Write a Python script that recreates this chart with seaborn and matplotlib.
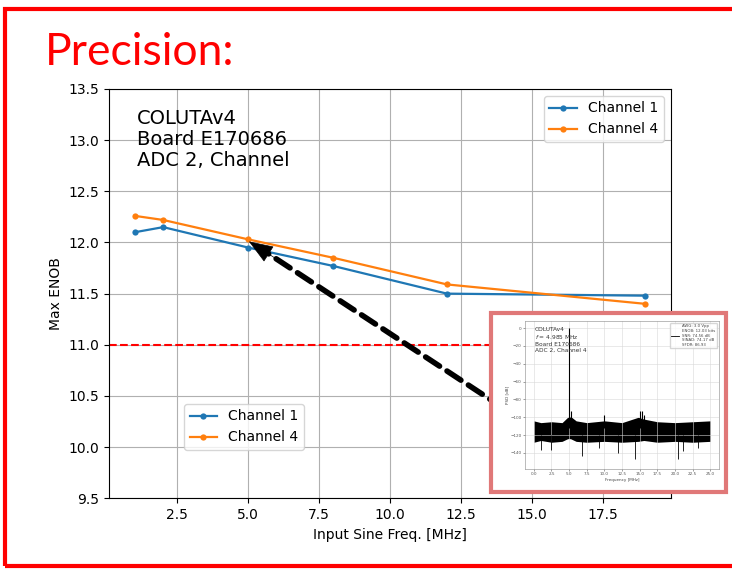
import numpy as np
import pandas as pd
import seaborn as sns
import matplotlib.pyplot as plt
from matplotlib.patches import Rectangle
from matplotlib.lines import Line2D

# main chart data
freq_mhz = [1, 2, 5, 8, 12, 19]
enob_ch1 = [12.10, 12.15, 11.95, 11.77, 11.50, 11.48]
enob_ch4 = [12.26, 12.22, 12.03, 11.85, 11.59, 11.40]
channels = ['Channel 1', 'Channel 4']
y_ticks = [9.5, 10.0, 10.5, 11.0, 11.5, 12.0, 12.5, 13.0, 13.5]

# inset PSD, rough envelope
psd_freq = [0.0, 1.0, 2.5, 4.0, 4.8, 5.2, 6.0, 7.5, 10.0, 12.5, 14.8, 15.6, 17.5, 20.0, 22.5, 25.0]
psd_hi = [-104, -106, -105, -106, -100, -99, -104, -106, -104, -106, -100, -102, -105, -106, -105, -104]
psd_lo = [-128, -126, -128, -127, -124, -124, -127, -128, -127, -128, -127, -126, -128, -127, -128, -127]
spur_freq = [4.985, 5.3, 10.0, 15.0, 15.3, 15.6]
spur_top = [0, -93, -97, -93, -93, -97]
dip_freq = [1.0, 2.5, 6.8, 9.3, 12.0, 14.3, 20.5, 21.2, 23.3]
dip_bottom = [-137, -137, -143, -135, -140, -147, -147, -138, -135]

df = pd.DataFrame({
    'freq': freq_mhz * 2,
    'enob': enob_ch1 + enob_ch4,
    'channel': [channels[0]] * len(freq_mhz) + [channels[1]] * len(freq_mhz),
})

fig = plt.figure(figsize=(7.32, 5.69), dpi=100)
ax = fig.add_axes([0.1493, 0.1243, 0.7674, 0.7193])

sns.lineplot(data=df, x='freq', y='enob', hue='channel', palette=['#1f77b4', '#ff7f0e'],
             marker='o', markersize=4.5, markeredgewidth=0, linewidth=1.6, ax=ax, legend=False)
ax.axhline(11.0, color='red', linestyle='--', linewidth=1.5)
ax.set_ylim(9.5, 13.5)
ax.set_yticks(y_ticks)
ax.set_xlim(0.1, 19.9)
ax.set_xticks([2.5, 5.0, 7.5, 10.0, 12.5, 15.0, 17.5])
ax.grid(True, color='#b0b0b0')
ax.set_xlabel('Input Sine Freq. [MHz]', fontsize=10)
ax.set_ylabel('Max ENOB', fontsize=10)
ax.tick_params(labelsize=10)

ax.text(0.05, 0.95, 'COLUTAv4\nBoard E170686\nADC 2, Channel', transform=ax.transAxes,
        fontsize=14, va='top', ha='left', linespacing=1.12)

handles = ax.get_lines()[:2]
leg1 = ax.legend(handles, channels, loc='upper right', fontsize=10)
ax.add_artist(leg1)
ax.legend(handles, channels, loc='lower left', bbox_to_anchor=(0.133, 0.118),
          borderaxespad=0, fontsize=10)

# dashed pointer from inset to the 5 MHz point
ax.annotate('', xy=(5.71, 11.89), xytext=(14.0, 10.38),
            arrowprops=dict(arrowstyle='-', lw=4, linestyle=(0, (3, 1.6)), color='black',
                            shrinkA=0, shrinkB=0),
            annotation_clip=False)
ax.annotate('', xy=(5.02, 12.01), xytext=(5.9, 11.855),
            arrowprops=dict(arrowstyle='-|>,head_length=0.8,head_width=0.3', lw=0.5,
                            color='black', mutation_scale=20, shrinkA=0, shrinkB=0),
            annotation_clip=False)

# inset frame and PSD picture
W, H = 732, 569
fig.add_artist(Rectangle((491 / W, 1 - 492 / H), 235 / W, 179 / H, transform=fig.transFigure,
                         facecolor='white', edgecolor='#e07878', linewidth=3, zorder=1))
ins = fig.add_axes([525 / W, 1 - 469 / H, 194 / W, 148 / H], zorder=2)
ins.fill_between(psd_freq, psd_lo, psd_hi, color='black', linewidth=0)
ins.vlines(spur_freq, -112, spur_top, color='black', linewidth=0.8)
ins.vlines(dip_freq, dip_bottom, -120, color='black', linewidth=0.6)
ins.set_xlim(-1.25, 26.25)
ins.set_ylim(-158, 8)
ins.set_xticks(np.arange(0, 25.1, 2.5))
ins.set_yticks(np.arange(-140, 1, 20))
ins.grid(True, color='#d8d8d8', linewidth=0.4)
ins.tick_params(labelsize=3, length=1.5, width=0.4, pad=1, colors='#555555')
for s in ins.spines.values():
    s.set_linewidth(0.4)
    s.set_color('#888888')
ins.set_xlabel('Frequency [MHz]', fontsize=3, labelpad=1, color='#444444')
ins.set_ylabel('PSD [dB]', fontsize=3, labelpad=1, color='#444444')
ins.text(0.05, 0.96, 'COLUTAv4\n$f$ = 4.985 MHz\nBoard E170686\nADC 2, Channel 4',
         transform=ins.transAxes, fontsize=4.2, va='top', color='#333333')
ins.legend([Line2D([0], [0], color='black', lw=0.6)],
           ['AWG: 3.0 Vpp\nENOB: 12.03 bits\nSNR: 74.56 dB\nSINAD: 74.17 dB\nSFDR: 86.93'],
           loc='upper right', fontsize=2.8, handlelength=2, borderpad=0.4, labelcolor='#444444')

# slide decorations
fig.text(45 / W, 1 - 65 / H, 'Precision:', color='red', fontsize=32, family='Lato',
         ha='left', va='baseline')
fig.add_artist(Rectangle((5.3 / W, 1 - 566 / H), 740 / W, 557.5 / H, transform=fig.transFigure,
                         facecolor='none', edgecolor='red', linewidth=3, clip_on=False, zorder=5))

fig.savefig('out.png', dpi=100)
